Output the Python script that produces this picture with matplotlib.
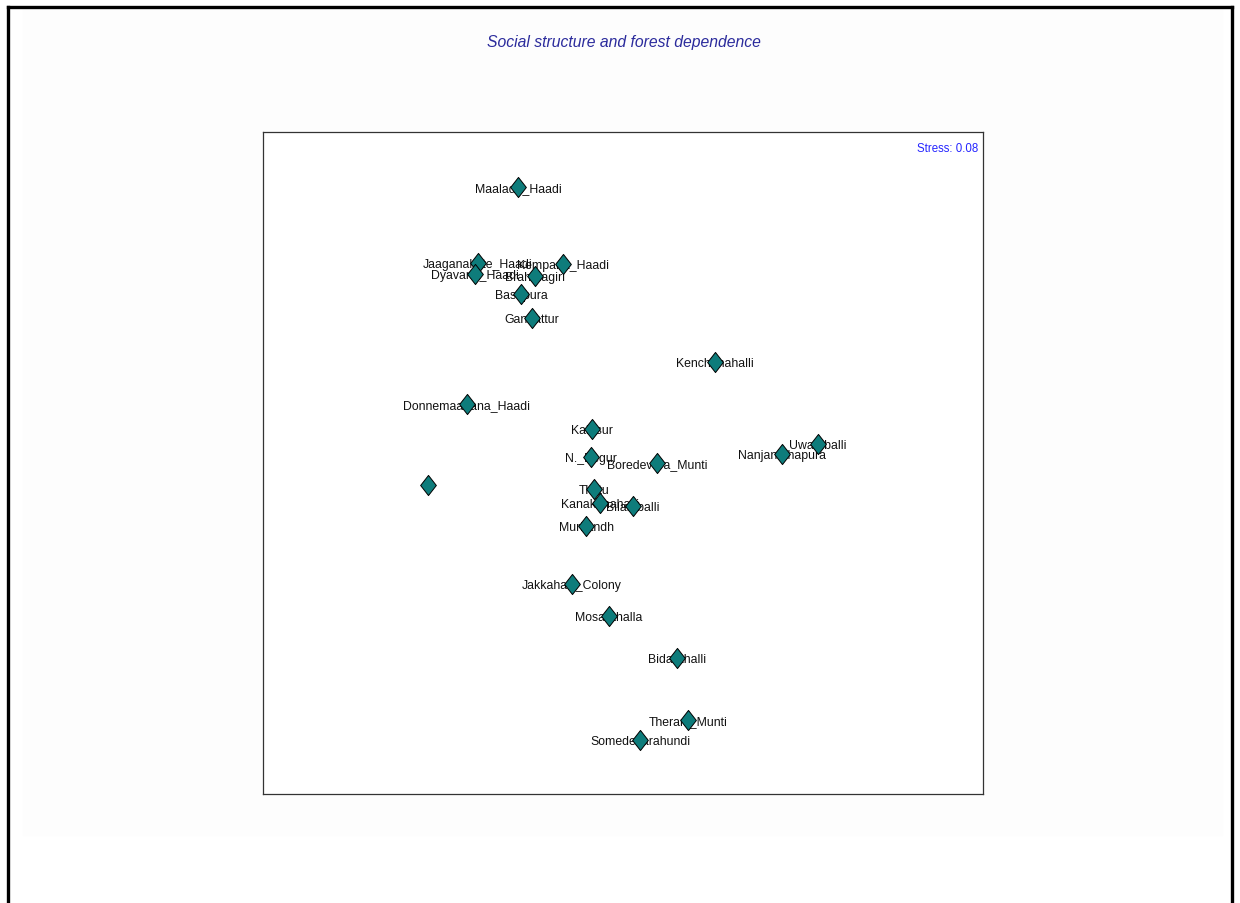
import matplotlib.pyplot as plt
from matplotlib.path import Path
from matplotlib.patches import Rectangle
from matplotlib.lines import Line2D

# MDS ordination of villages (dimension 1, dimension 2)
villages = [
    'Maalada_Haadi', 'Jaaganakote_Haadi', 'Kempana_Haadi', 'Dyavana_Haadi',
    'Brahmagiri', 'Basapura', 'Gandattur', 'Kenchanahalli',
    'Donnemaadana_Haadi', 'Kalasur', 'N._Begur', 'Boredevara_Munti',
    'Uwamballi', 'Nanjanathapura', '', 'Thittu', 'Kanakanahalli',
    'Bilamballi', 'Murkandh', 'Jakkahalli_Colony', 'Mosarahalla',
    'Bidarahalli', 'Therani_Munti', 'Somedevarahundi',
]
dim1 = [-1.05, -1.45, -0.60, -1.48, -0.88, -1.02, -0.91, 0.92,
        -1.56, -0.31, -0.32, 0.34, 1.95, 1.59, -1.95, -0.29, -0.23,
        0.10, -0.37, -0.51, -0.14, 0.54, 0.65, 0.17]
dim2 = [2.76, 2.00, 1.99, 1.89, 1.87, 1.69, 1.45, 1.01,
        0.59, 0.34, 0.06, 0.00, 0.19, 0.09, -0.22, -0.26, -0.40,
        -0.43, -0.63, -1.21, -1.53, -1.95, -2.57, -2.77]
stress = 0.08

fig = plt.figure(figsize=(12.4, 9.04), dpi=100)
W, H = 1240, 904

# faint page background and heavy frame
fig.patches.append(Rectangle((23 / W, 1 - 836 / H), 1199 / W, 826 / H,
                             transform=fig.transFigure, color='#fdfdfd', zorder=-10))
for xs, ys in [([8, 8], [904, 8]), ([8, 1232], [8, 8]), ([1232, 1232], [8, 904])]:
    fig.lines.append(Line2D([x / W for x in xs], [1 - y / H for y in ys],
                            transform=fig.transFigure, color='black', lw=2.4))

ax = fig.add_axes([263 / W, 1 - 795 / H, 720 / W, 662 / H], zorder=2)
ax.set_facecolor('white')
ax.set_xlim(-3.6, 3.6)
ax.set_ylim(-3.31, 3.31)
ax.set_xticks([])
ax.set_yticks([])
for s in ax.spines.values():
    s.set_color('#333333')
    s.set_linewidth(0.9)

diamond = Path([(0, 1), (0.78, 0), (0, -1), (-0.78, 0), (0, 1)],
               [Path.MOVETO, Path.LINETO, Path.LINETO, Path.LINETO, Path.CLOSEPOLY])

label_font = ['Liberation Sans Narrow', 'Liberation Sans', 'DejaVu Sans']
for name, x, y in zip(villages, dim1, dim2):
    if name:
        ax.text(x, y - 0.01, name, ha='center', va='center', fontsize=8.8,
                family=label_font, color='#111111', zorder=3)
ax.scatter(dim1, dim2, marker=diamond, s=14.5 ** 2, facecolor='#0e7c7b',
           edgecolor='black', linewidth=0.7, zorder=4)

ax.text(0.994, 0.985, f'Stress: {stress:.2f}', transform=ax.transAxes,
        ha='right', va='top', fontsize=8.3, color='#2525ff', family=label_font)

fig.text(624 / W, 1 - 43 / H, 'Social structure and forest dependence',
         ha='center', va='center', fontsize=11.3, style='italic',
         color='#2b2b9c', family=label_font)

fig.savefig('out.png', dpi=100)
